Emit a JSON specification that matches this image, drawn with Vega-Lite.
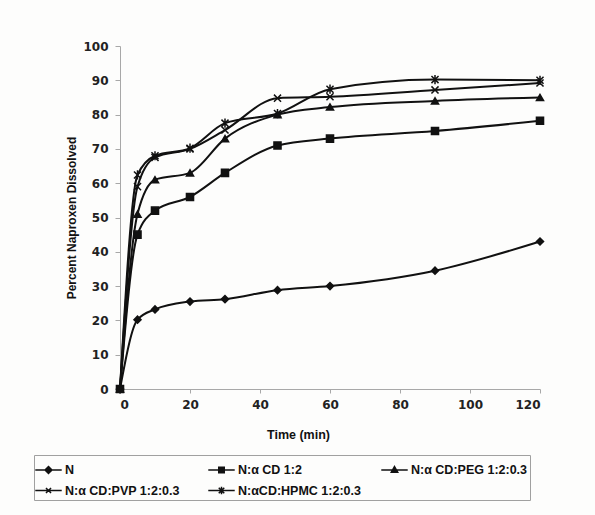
{
  "$schema": "https://vega.github.io/schema/vega-lite/v6.json",
  "width": 420,
  "height": 343,
  "autosize": {"type": "none"},
  "padding": {"left": 120, "top": 46, "right": 55, "bottom": 126},
  "background": "#fdfdfc",
  "config": {"view": {"stroke": null}},
  "data": {
    "values": [
      {"t": 0, "v": 0, "s": "N"},
      {"t": 5, "v": 20.2, "s": "N"},
      {"t": 10, "v": 23.2, "s": "N"},
      {"t": 20, "v": 25.5, "s": "N"},
      {"t": 30, "v": 26.2, "s": "N"},
      {"t": 45, "v": 28.8, "s": "N"},
      {"t": 60, "v": 30, "s": "N"},
      {"t": 90, "v": 34.5, "s": "N"},
      {"t": 120, "v": 43, "s": "N"},
      {"t": 0, "v": 0, "s": "N:α CD 1:2"},
      {"t": 5, "v": 45, "s": "N:α CD 1:2"},
      {"t": 10, "v": 52, "s": "N:α CD 1:2"},
      {"t": 20, "v": 56, "s": "N:α CD 1:2"},
      {"t": 30, "v": 63, "s": "N:α CD 1:2"},
      {"t": 45, "v": 71, "s": "N:α CD 1:2"},
      {"t": 60, "v": 73, "s": "N:α CD 1:2"},
      {"t": 90, "v": 75.2, "s": "N:α CD 1:2"},
      {"t": 120, "v": 78.2, "s": "N:α CD 1:2"},
      {"t": 0, "v": 0, "s": "N:α CD:PEG 1:2:0.3"},
      {"t": 5, "v": 51, "s": "N:α CD:PEG 1:2:0.3"},
      {"t": 10, "v": 61, "s": "N:α CD:PEG 1:2:0.3"},
      {"t": 20, "v": 63, "s": "N:α CD:PEG 1:2:0.3"},
      {"t": 30, "v": 73, "s": "N:α CD:PEG 1:2:0.3"},
      {"t": 45, "v": 80, "s": "N:α CD:PEG 1:2:0.3"},
      {"t": 60, "v": 82.2, "s": "N:α CD:PEG 1:2:0.3"},
      {"t": 90, "v": 84, "s": "N:α CD:PEG 1:2:0.3"},
      {"t": 120, "v": 85, "s": "N:α CD:PEG 1:2:0.3"},
      {"t": 0, "v": 0, "s": "N:α CD:PVP 1:2:0.3"},
      {"t": 5, "v": 59, "s": "N:α CD:PVP 1:2:0.3"},
      {"t": 10, "v": 67.5, "s": "N:α CD:PVP 1:2:0.3"},
      {"t": 20, "v": 70, "s": "N:α CD:PVP 1:2:0.3"},
      {"t": 30, "v": 75.5, "s": "N:α CD:PVP 1:2:0.3"},
      {"t": 45, "v": 84.8, "s": "N:α CD:PVP 1:2:0.3"},
      {"t": 60, "v": 85.2, "s": "N:α CD:PVP 1:2:0.3"},
      {"t": 90, "v": 87.2, "s": "N:α CD:PVP 1:2:0.3"},
      {"t": 120, "v": 89.2, "s": "N:α CD:PVP 1:2:0.3"},
      {"t": 0, "v": 0, "s": "N:αCD:HPMC 1:2:0.3"},
      {"t": 5, "v": 62.4, "s": "N:αCD:HPMC 1:2:0.3"},
      {"t": 10, "v": 68, "s": "N:αCD:HPMC 1:2:0.3"},
      {"t": 20, "v": 70.2, "s": "N:αCD:HPMC 1:2:0.3"},
      {"t": 30, "v": 77.5, "s": "N:αCD:HPMC 1:2:0.3"},
      {"t": 45, "v": 80.3, "s": "N:αCD:HPMC 1:2:0.3"},
      {"t": 60, "v": 87.4, "s": "N:αCD:HPMC 1:2:0.3"},
      {"t": 90, "v": 90.2, "s": "N:αCD:HPMC 1:2:0.3"},
      {"t": 120, "v": 90, "s": "N:αCD:HPMC 1:2:0.3"}
    ]
  },
  "encoding": {
    "x": {
      "field": "t",
      "type": "quantitative",
      "scale": {"domain": [0, 120], "nice": false},
      "axis": {
        "values": [0, 20, 40, 60, 80, 100, 120],
        "grid": false,
        "domainColor": "#a8a8a8",
        "tickColor": "#a8a8a8",
        "tickSize": 4,
        "labelFont": "DejaVu Sans",
        "labelFontWeight": "bold",
        "labelFontSize": 12,
        "labelColor": "#222222",
        "labelPadding": 6,
        "title": "Time (min)",
        "titleFont": "Liberation Sans",
        "titleFontSize": 12.5,
        "titleFontWeight": "bold",
        "titleColor": "#111111",
        "titlePadding": 18,
        "titleX": 178
      }
    },
    "y": {
      "field": "v",
      "type": "quantitative",
      "scale": {"domain": [0, 100], "nice": false},
      "axis": {
        "values": [0, 10, 20, 30, 40, 50, 60, 70, 80, 90, 100],
        "grid": false,
        "domainColor": "#a8a8a8",
        "tickColor": "#a8a8a8",
        "tickSize": 5,
        "labelFont": "DejaVu Sans",
        "labelFontWeight": "bold",
        "labelFontSize": 12,
        "labelColor": "#222222",
        "labelPadding": 7,
        "title": "Percent Naproxen Dissolved",
        "titleFont": "Liberation Sans",
        "titleFontSize": 12,
        "titleFontWeight": "bold",
        "titleColor": "#111111",
        "titlePadding": 4
      }
    }
  },
  "layer": [
    {
      "mark": {"type": "line", "color": "#111111", "strokeWidth": 2, "interpolate": "monotone"},
      "encoding": {"detail": {"field": "s", "type": "nominal"}}
    },
    {
      "mark": {"type": "point", "filled": true, "color": "#111111", "stroke": "#111111", "strokeWidth": 1.5, "size": 50, "opacity": 1},
      "encoding": {
        "shape": {
          "field": "s",
          "type": "nominal",
          "scale": {
            "domain": ["N", "N:α CD 1:2", "N:α CD:PEG 1:2:0.3", "N:α CD:PVP 1:2:0.3", "N:αCD:HPMC 1:2:0.3"],
            "range": ["diamond", "square", "triangle-up", "M-1,-1L1,1M-1,1L1,-1", "M-1,-1L1,1M-1,1L1,-1M0,-1.3V1.3"]
          },
          "legend": null
        }
      }
    },
    {
      "transform": [{"filter": "datum.v < -1"}],
      "mark": {"type": "point", "filled": true, "color": "#111111", "stroke": "#111111", "strokeWidth": 1.5, "size": 529, "opacity": 1},
      "encoding": {
        "shape": {
          "field": "s",
          "type": "nominal",
          "scale": {
            "domain": ["N", "N:α CD 1:2", "N:α CD:PEG 1:2:0.3", "N:α CD:PVP 1:2:0.3", "N:αCD:HPMC 1:2:0.3"],
            "range": [
              "M-1.15,0H1.15M0,-0.3L0.3,0L0,0.3L-0.3,0Z",
              "M-1.15,0H1.15M-0.24,-0.24H0.24V0.24H-0.24Z",
              "M-1.15,0H1.15M0,-0.3L0.28,0.2H-0.28Z",
              "M-1.15,0H1.15M-0.22,-0.22L0.22,0.22M-0.22,0.22L0.22,-0.22",
              "M-1.15,0H1.15M-0.24,-0.24L0.24,0.24M-0.24,0.24L0.24,-0.24M0,-0.32V0.32"
            ]
          },
          "legend": {
            "title": null,
            "orient": "none",
            "legendX": -86,
            "legendY": 409,
            "direction": "horizontal",
            "columns": 3,
            "gridAlign": "all",
            "columnPadding": 17,
            "rowPadding": 1,
            "padding": 2,
            "strokeColor": "#a0a0a0",
            "cornerRadius": 0,
            "symbolSize": 529,
            "symbolOpacity": 1,
            "labelFont": "Liberation Sans",
            "labelFontSize": 12.5,
            "labelFontWeight": "bold",
            "labelColor": "#111111",
            "labelOffset": 4,
            "labelLimit": 300,
            "encode": {
              "symbols": {
                "update": {
                  "fill": {"value": "#111111"},
                  "stroke": {"value": "#111111"},
                  "strokeWidth": {"value": 1.8},
                  "opacity": {"value": 1}
                }
              }
            }
          }
        }
      }
    }
  ],
  "resolve": {"scale": {"shape": "independent"}}
}
